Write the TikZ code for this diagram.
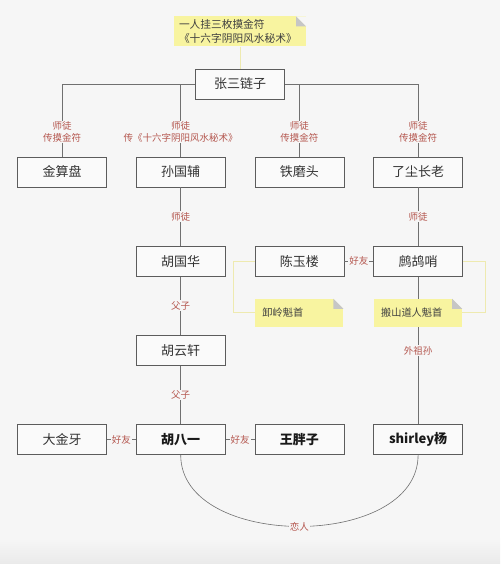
\documentclass[tikz,border=0pt]{standalone}
\usepackage{fontspec}
\setmainfont{Noto Sans CJK SC}
\usetikzlibrary{positioning}
\definecolor{TombBg}{HTML}{F6F6F6}
\definecolor{TombBand}{HTML}{EAEAEA}
\definecolor{TombBox}{HTML}{FAFAFA}
\definecolor{TombEdge}{HTML}{5C5C5C}
\definecolor{TombLine}{HTML}{707070}
\definecolor{TombRed}{HTML}{B4564E}
\definecolor{TombNote}{HTML}{F8F4A0}
\definecolor{TombFold}{HTML}{C6C6C6}
\definecolor{TombLink}{HTML}{EEEAB0}
\tikzset{person/.style={draw=TombEdge,fill=TombBox,line width=0.7pt,minimum width=89pt,
minimum height=30pt,inner sep=0pt,text=black!80,font=\fontsize{13}{15}\selectfont},
hero/.style={person,text=black!90,font=\fontsize{13}{15}\selectfont\bfseries},
note/.style={fill=TombNote,inner xsep=7pt,inner ysep=0pt,text width=74pt,minimum height=28pt,
align=left,text=black!75,font=\fontsize{10.2}{14}\selectfont,
path picture={\fill[TombBg](path picture bounding box.north east)--++(-10pt,0)--++(10pt,-10pt)--cycle;
\fill[TombFold](path picture bounding box.north east)++(-10pt,0)--++(10pt,-10pt)--++(-10pt,0)--cycle;}},
kin/.style={draw=TombLine,line width=0.6pt},
link/.style={draw=TombLink,line width=0.8pt},
rel/.style={fill=TombBg,text=TombRed,inner sep=1pt,align=center,font=\fontsize{9.5}{12}\selectfont}}
\begin{document}
\begin{tikzpicture}[x=1pt,y=-1pt,node distance=58.5pt and 29pt]
\fill[TombBg](0,0)rectangle(500,564);
\shade[top color=TombBg,bottom color=TombBand](0,538)rectangle(500,564);
\useasboundingbox(0,0)rectangle(500,564);
% master and his four disciples
\node[person](zhang)at(240,84){张三链子};
\node[note,above=22pt of zhang,inner xsep=5pt,text width=122pt,minimum height=30pt,
font=\fontsize{10.7}{14}\selectfont](mojin){一人挂三枚摸金符\\《十六字阴阳风水秘术》};
\node[person](jin)at(62,172){金算盘};
\node[person,right=of jin](sun){孙国辅};
\node[person,right=of sun](tie){铁磨头};
\node[person,right=of tie](liao){了尘长老};
\node[person,below=of sun](huguo){胡国华};
\node[person,below=of tie](chen){陈玉楼};
\node[person,below=of liao](zhegu){鹧鸪哨};
\node[person,below=of huguo](huyun){胡云轩};
\node[hero,below=of huyun](hubayi){胡八一};
\node[person,left=of hubayi](dajin){大金牙};
\node[hero,right=of hubayi](wang){王胖子};
\node[hero,right=of wang](shirley){shirley杨};
\draw[link](mojin)--(zhang);
\draw[kin](zhang.west)-|node[rel,pos=0.83]{师徒\\传摸金符}(jin.north);
\draw[kin](zhang.west)-|node[rel,pos=0.83]{师徒\\传《十六字阴阳风水秘术》}(sun.north);
\draw[kin](zhang.east)-|node[rel,pos=0.83]{师徒\\传摸金符}(tie.north);
\draw[kin](zhang.east)-|node[rel,pos=0.83]{师徒\\传摸金符}(liao.north);
\draw[kin](sun)--node[rel]{师徒}(huguo);\draw[kin](liao)--node[rel]{师徒}(zhegu);
\draw[kin](huguo)--node[rel]{父子}(huyun);\draw[kin](huyun)--node[rel]{父子}(hubayi);
\draw[kin](chen)--node[rel]{好友}(zhegu);
\draw[kin](zhegu)--node[rel]{外祖孙}(shirley);
\draw[kin](dajin)--node[rel]{好友}(hubayi);\draw[kin](hubayi)--node[rel]{好友}(wang);
\draw[kin](hubayi.south)to[out=-90,in=-90,looseness=1.03]node[rel]{恋人}(shirley.south);
% titles of the two factions
\node[note,below=22pt of chen](xieling){卸岭魁首};
\node[note,below=22pt of zhegu](banshan){搬山道人魁首};
\draw[link](chen.west)--++(-21,0)|-(xieling.west);
\draw[link](zhegu.east)--++(22,0)|-(banshan.east);
\end{tikzpicture}
\end{document}
